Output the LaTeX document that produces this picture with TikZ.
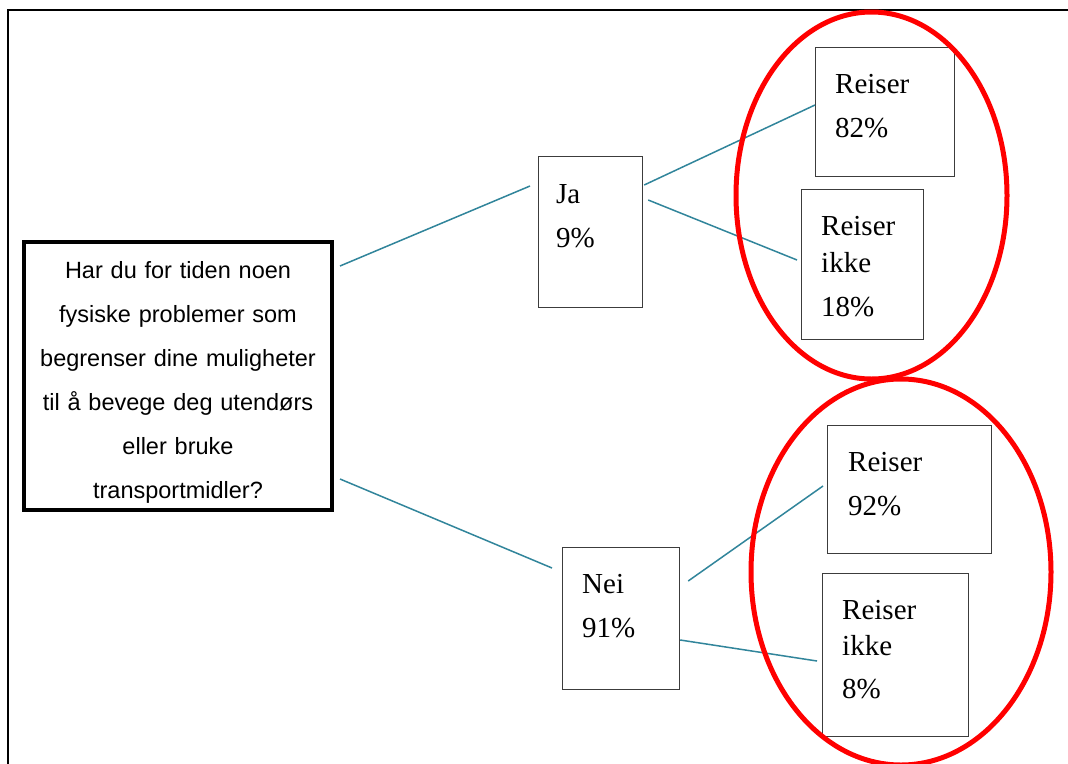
\documentclass[tikz,border=0pt]{standalone}
\usepackage{fontspec}
\setmainfont{Liberation Serif}
\newfontfamily\arialf{Liberation Sans}
\usetikzlibrary{calc}
\definecolor{tealc}{RGB}{49,133,155}
\definecolor{boxgray}{RGB}{60,60,60}
\tikzset{
  box/.style={draw=boxgray, line width=1.2pt, inner sep=0pt, anchor=north west},
  txt/.style={anchor=north west, inner sep=0pt, align=left, font=\fontsize{29}{35}\selectfont},
  conn/.style={draw=tealc, line width=1.5pt},
  ring/.style={draw=red, line width=5pt},
}
\begin{document}
\begin{tikzpicture}[x=1pt,y=-1pt]
\useasboundingbox (0,0) rectangle (1068,763);
\fill[white] (0,0) rectangle (1068,763);
\draw[line width=2pt] (8,10) rectangle (1090,790);
% question
\node[draw, line width=4pt, minimum width=308pt, minimum height=268pt, inner sep=0pt,
      text width=300pt, align=center, font=\arialf\fontsize{23.5}{44}\selectfont] (q) at (178,376)
  {\rule{0pt}{29pt}Har du for tiden noen\\fysiske problemer som\\begrenser dine muligheter\\til å bevege deg utendørs\\eller bruke\\transportmidler?};
% boxes
\node[box, minimum width=104pt, minimum height=151pt] (ja) at (538,156) {};
\node[box, minimum width=117pt, minimum height=142pt] (nei) at (562,547) {};
\node[box, minimum width=139pt, minimum height=129pt] (r1) at (815,47) {};
\node[box, minimum width=122pt, minimum height=150pt] (r2) at (801,189) {};
\node[box, minimum width=164pt, minimum height=128pt] (r3) at (827,425) {};
\node[box, minimum width=146pt, minimum height=163pt] (r4) at (822,573) {};
% texts
\node[txt] (jat) at (556,184) {Ja\\[9pt]9\%};
\node[txt] (neit) at (582,574) {Nei\\[9pt]91\%};
\node[txt] (r1t) at (835,74) {Reiser\\[9pt]82\%};
\node[txt] (r2t) at (821,216) {Reiser\\[2pt]ikke\\[9pt]18\%};
\node[txt] (r3t) at (848,452) {Reiser\\[9pt]92\%};
\node[txt] (r4t) at (842,600) {Reiser\\[1pt]ikke\\[8pt]8\%};
% connectors
\draw[conn] ($(q.north east)+(6,26)$) -- ($(ja.north west)+(-8,30)$);
\draw[conn] ($(q.south east)+(6,-33)$) -- ($(nei.north west)+(-10,21)$);
\draw[conn] ($(ja.north east)+(1,29)$) -- ($(r1.north west)+(0,58)$);
\draw[conn] ($(ja.north east)+(5,44)$) -- ($(r2.north west)+(-4,71)$);
\draw[conn] ($(nei.north east)+(8,34)$) -- ($(r3.north west)+(-4,61)$);
\draw[conn] ($(nei.north east)+(0,93)$) -- ($(r4.north west)+(-5,88)$);
% ellipses
\draw[ring] (871.5,195.5) ellipse [x radius=135.5pt, y radius=183.5pt];
\draw[ring] (901,572) ellipse [x radius=150pt, y radius=193pt];
\end{tikzpicture}
\end{document}
